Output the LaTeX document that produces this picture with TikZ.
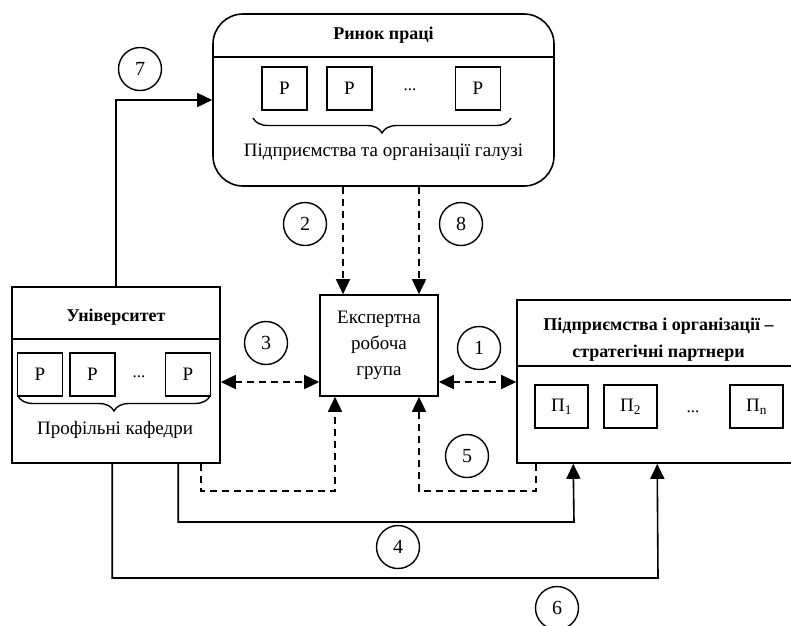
\documentclass[tikz,border=0pt]{standalone}
\usepackage{fontspec}
\setmainfont{Liberation Serif}
\usetikzlibrary{arrows.meta,calc,decorations.pathreplacing}
\begin{document}
\begin{tikzpicture}[x=1pt,y=-1pt,
  box/.style={draw, line width=1.6pt, inner sep=0pt},
  pbox/.style={draw, line width=1.4pt, minimum width=45pt, minimum height=43pt, inner sep=0pt, font=\fontsize{19}{22}\selectfont},
  txt/.style={inner sep=0pt, font=\fontsize{19}{22}\selectfont},
  dts/.style={inner sep=0pt, anchor=base, font=\fontsize{17}{22}\selectfont},
  ttl/.style={inner sep=0pt, font=\fontsize{18}{27}\selectfont\bfseries, align=center},
  num/.style={draw, circle, line width=1.4pt, minimum size=43pt, inner sep=0pt, font=\fontsize{20}{22}\selectfont},
  arr/.style={line width=1.6pt, -{Triangle[length=15pt,width=14pt]}},
  darr/.style={arr, dash pattern=on 7pt off 5pt},
  dbl/.style={line width=1.6pt, dash pattern=on 7pt off 5pt, {Triangle[length=15pt,width=14pt]}-{Triangle[length=15pt,width=14pt]}},
  brc/.style={line width=1.4pt, decorate, decoration={brace, amplitude=15pt, mirror}}
]
\useasboundingbox (0,0) rectangle (791,625);
\clip (0,0) rectangle (791,625);

% Market
\node[box, rounded corners=30pt, minimum width=341pt, minimum height=172pt] (market) at (383.5,100) {};
\draw[line width=1.6pt] ($(market.north west)+(0,44)$) coordinate (ms1) -- ($(market.north east)+(0,44)$) coordinate (ms2);
\node[ttl] (mt) at (383.5,35) {Ринок праці};
\node[pbox] (mp1) at (284.5,88.5) {Р};
\node[pbox] (mp2) at (349.5,88.5) {Р};
\node[dts] (mdots) at (410,90) {...};
\node[pbox] (mp3) at (478,88.5) {Р};
\coordinate (mb1) at (253,118);
\coordinate (mb2) at (511,118);
\draw[brc] (mb1) -- (mb2);
\node[txt] (ml) at (383.5,152) {Підприємства та організації галузі};

% University
\node[box, minimum width=208pt, minimum height=176pt] (uni) at (116,375) {};
\draw[line width=1.6pt] ($(uni.north west)+(0,53)$) coordinate (us1) -- ($(uni.north east)+(0,53)$) coordinate (us2);
\node[ttl] (ut) at (116,317) {Університет};
\node[pbox] (up1) at (40,374.5) {Р};
\node[pbox] (up2) at (92.5,374.5) {Р};
\node[dts] (udots) at (139,377) {...};
\node[pbox] (up3) at (188,374.5) {Р};
\coordinate (ub1) at (18,396);
\coordinate (ub2) at (210,396);
\draw[brc] (ub1) -- (ub2);
\node[txt] (ul) at (115,430) {Профільні кафедри};

% Expert group
\node[box, minimum width=118pt, minimum height=101pt, align=center, font=\fontsize{19}{26}\selectfont] (exp) at (379,345.5) {Експертна\\робоча\\група};

% Partners
\node[box, minimum width=283pt, minimum height=163pt] (part) at (658.5,381.5) {};
\draw[line width=1.6pt] ($(part.north west)+(0,67)$) coordinate (ps1) -- ($(part.north east)+(0,67)$) coordinate (ps2);
\node[ttl] (pt) at (658.5,340) {Підприємства і організації –\\стратегічні партнери};
\node[pbox, minimum width=53pt] (pp1) at (561.5,406.5) {П\textsubscript{1}};
\node[pbox, minimum width=53pt] (pp2) at (630.5,406.5) {П\textsubscript{2}};
\node[dts] (pdots) at (693,412) {...};
\node[pbox, minimum width=53pt] (pp3) at (756.5,406.5) {П\textsubscript{n}};

% connectors
\coordinate (ya) at (0,382);
\draw[arr] (uni.north) |- (market.west);
\draw[darr] ($(market.south)+(-40.5,0)$) -- ($(exp.north)+(-36,0)$);
\draw[darr] ($(market.south)+(35.5,0)$) -- ($(exp.north)+(40,0)$);
\draw[dbl] (uni.east |- ya) -- (exp.west |- ya);
\draw[dbl] (exp.east |- ya) -- (part.west |- ya);
\coordinate (d1) at (202,491);
\coordinate (d2) at (537,491);
\draw[darr] ($(uni.south west)+(190,0)$) |- ($(d1)+(133,0)$) -- ($(exp.south)+(-44,0)$);
\draw[darr] ($(part.south west)+(20,0)$) |- ($(d2)+(-118,0)$) -- ($(exp.south)+(40,0)$);
\coordinate (s4) at (179,522);
\coordinate (s6) at (113,578);
\draw[arr] ($(uni.south west)+(167,0)$) |- ($(s4)+(395,0)$) -- ($(part.south west)+(57,0)$);
\draw[arr] ($(uni.south west)+(101,0)$) |- ($(s6)+(545,0)$) -- ($(part.south west)+(141,0)$);

% numbers
\node[num] (n7) at (140,69) {7};
\node[num] (n2) at (305,224) {2};
\node[num] (n8) at (461,224) {8};
\node[num] (n3) at (266,343) {3};
\node[num] (n1) at (479,348) {1};
\node[num] (n5) at (467,456) {5};
\node[num] (n4) at (398,547) {4};
\node[num] (n6) at (557,608) {6};
\end{tikzpicture}
\end{document}
